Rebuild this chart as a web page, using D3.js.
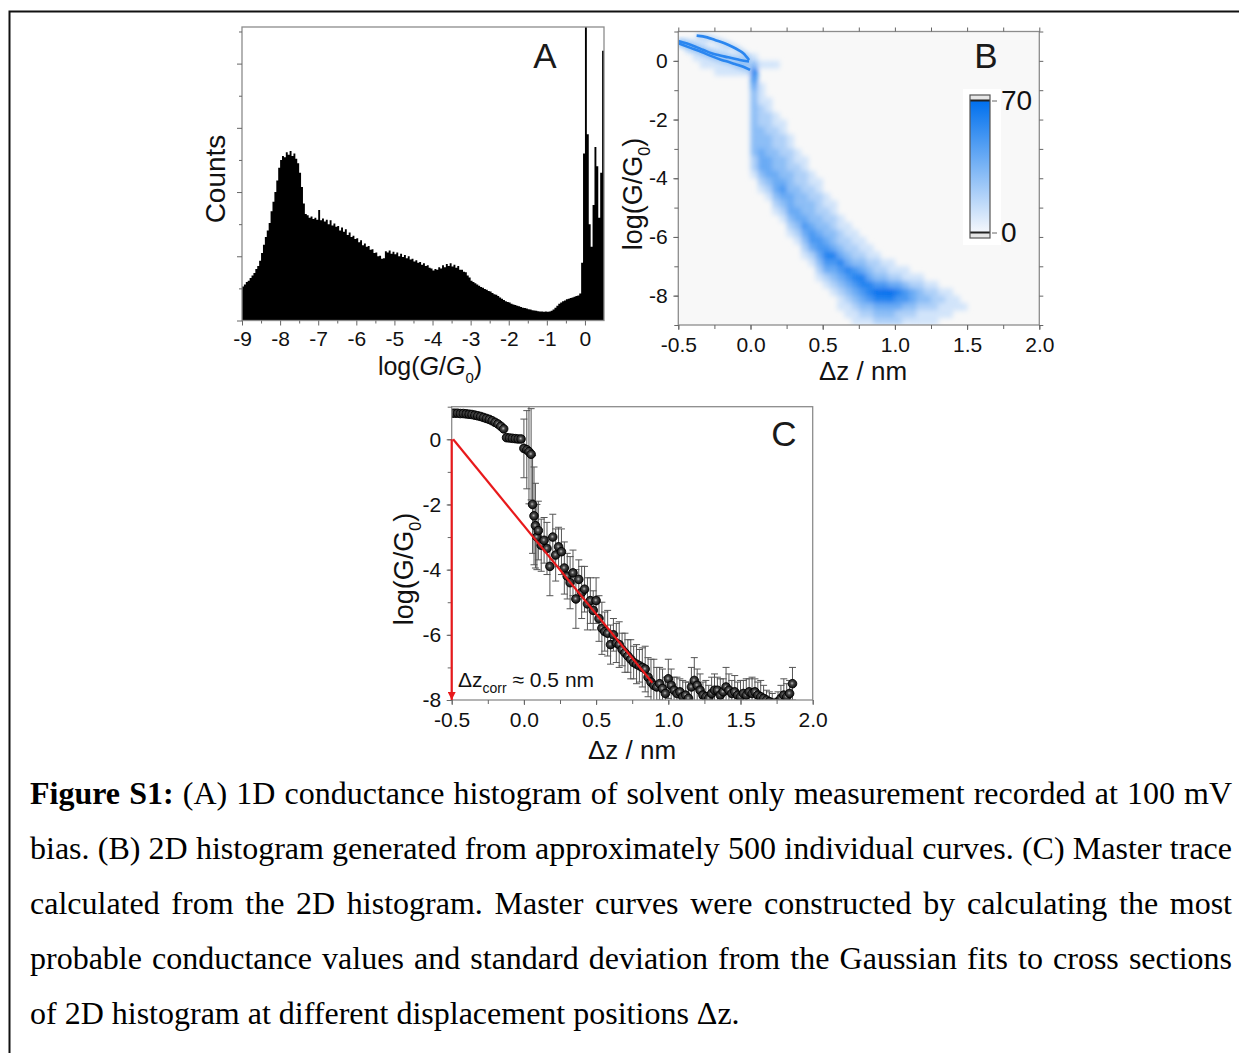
<!DOCTYPE html>
<html><head><meta charset="utf-8">
<script src="https://cdnjs.cloudflare.com/ajax/libs/d3/7.8.5/d3.min.js"></script>
<style>body{margin:0;background:#fff}svg{display:block}</style>
</head><body>
<svg id="fig" width="1239" height="1053"></svg>
<script>
// ---------------- DATA ----------------
// Panel A: 1D histogram, bins of 0.05 starting at -9
const histFirstBin = -9.0;
const histBinWidth = 0.05;
const histCounts = [
 530,560,600,620,660,700,740,800,850,930,
 1050,1180,1300,1400,1520,1700,1850,2000,2180,2380,
 2500,2560,2540,2620,2580,2640,2560,2600,2520,2450,
 2300,2080,1820,1660,1640,1600,1620,1580,1600,1570,
 1720,1560,1590,1540,1570,1500,1560,1480,1510,1460,
 1470,1400,1450,1380,1420,1330,1370,1300,1320,1270,
 1280,1220,1250,1170,1200,1150,1160,1100,1110,1050,
 1060,1000,1010,960,970,1080,1060,1090,1040,1070,
 1030,1060,1000,1040,990,1020,970,1000,950,960,
 920,940,900,910,870,890,850,860,820,810,
 780,800,790,830,810,860,830,880,850,890,
 840,870,820,850,790,790,760,750,700,670,
 620,600,580,560,540,520,510,490,480,460,
 450,430,410,400,380,360,340,320,300,290,
 280,260,250,240,230,220,210,200,195,185,
 175,170,160,155,150,145,140,140,135,140,
 135,140,150,170,200,230,260,280,300,310,
 330,340,350,360,370,380,390,420,900,2600,
 4700,2900,1500,1150,1800,2700,2400,1600,2300,4200
];
const histXTicks = [-9,-8,-7,-6,-5,-4,-3,-2,-1,0];
const histYTicks = [0,1000,2000,3000,4000];

// Panel B: 2D histogram, columns of 0.05 nm from -0.5, rows of 0.25 from log=1 downward
const densityColStart = -0.5, densityColWidth = 0.05, densityRowTop = 1, densityRowHeight = 0.25;
const densityStartRow = [1,1,1,1,2,2,2,3,3,3, 3,4,4,4,12,14,16,17,19,20, 22,23,25,26,27,28,29,30,31,31, 32,32,33,33,34,34,35,35,36,37];
const densityDigits = [
 "1","11","111","1111","111","1111","1111","111","121","121",
 "13654333333333221","100111222333444321","1000011222333444321","100000011222333444321",
 "11222333454321","11222333444321","1122233344321","11222333454321","1122333455421","11222334554321",
 "1122334565421","1122334654321","1122346543211","1122346543211","1122356543211","112346654321",
 "11234665321","1223576432","123576432","112476432","12465422","11355321","1244321","1233211",
 "123211","122211","1211","1111","11","1"
];
const densityLevelCount = 10; // counts per digit level
const colorbarMax = 70, colorbarMin = 0;
// plateau traces (log G/G0 vs Δz) in the 2D histogram
const traceUx = [-0.373,-0.30,-0.246,-0.18,-0.13,-0.08,-0.05,-0.01];
const traceUy = [0.86,0.80,0.71,0.60,0.49,0.36,0.26,0.03];
const traceMx = [-0.5,-0.44,-0.385,-0.33,-0.27,-0.21,-0.154,-0.11,-0.073,-0.01];
const traceMy = [0.68,0.59,0.49,0.38,0.26,0.18,0.12,0.07,0.03,-0.02];
const traceLx = [-0.5,-0.42,-0.338,-0.27,-0.2,-0.15,-0.108,-0.05,-0.003];
const traceLy = [0.60,0.45,0.30,0.16,0.03,-0.04,-0.11,-0.2,-0.31];
const dzTicks = [-0.5,0,0.5,1,1.5,2];
const logTicksB = [0,-2,-4,-6,-8];

// Panel C: master trace
const cX = [-0.50,-0.48,-0.46,-0.44,-0.42,-0.40,-0.38,-0.36,-0.34,-0.32,-0.30,-0.28,-0.26,-0.24,-0.22,-0.20,-0.18,-0.16,-0.14,
 -0.12,-0.10,-0.08,-0.06,-0.04,-0.02,
 0.00,0.02,0.035,0.05,
 0.06,0.07,0.08,0.09,0.10,
 0.12,0.14,0.16,0.18,0.20,0.22,0.24,0.26,0.28,0.30,
 0.32,0.34,0.36,0.38,0.40,0.42,0.44,0.46,0.48,0.50,
 0.52,0.54,0.56,0.58,0.60,0.62,0.64,0.66,0.68,0.70,
 0.72,0.74,0.76,0.78,0.80,0.82,0.84,0.86,0.88,0.90,
 0.92,0.94,0.96,0.98,1.00,1.02,1.04,1.06,1.08,1.10,
 1.12,1.14,1.16,1.18,1.20,1.22,1.24,1.26,1.28,1.30,
 1.32,1.34,1.36,1.38,1.40,1.42,1.44,1.46,1.48,1.50,
 1.52,1.54,1.56,1.58,1.60,1.62,1.64,1.66,1.68,1.70,
 1.72,1.74,1.76,1.78,1.80,1.82,1.84,1.86];
const cY = [0.80,0.80,0.80,0.79,0.79,0.78,0.77,0.76,0.74,0.72,0.70,0.67,0.64,0.61,0.57,0.52,0.47,0.40,0.32,
 0.05,0.04,0.03,0.02,0.01,0.01,
 -0.28,-0.32,-0.38,-0.46,
 -2.0,-2.35,-2.65,-3.0,-2.8,
 -3.25,-3.10,-3.35,-3.90,-3.00,-3.55,-3.30,-3.45,-3.95,-4.20,
 -4.40,-4.10,-4.90,-4.30,-4.70,-4.60,-5.05,-4.95,-5.25,-4.95,
 -5.50,-5.80,-5.90,-5.95,-6.30,-6.00,-6.25,-6.30,-6.45,-6.55,
 -6.65,-6.75,-6.85,-6.90,-6.95,-7.00,-7.05,-7.30,-7.45,-7.55,
 -7.60,-7.50,-7.65,-7.80,-7.35,-7.55,-7.70,-7.80,-7.75,-7.90,
 -7.85,-7.95,-7.60,-7.40,-7.55,-7.70,-7.85,-7.90,-7.95,-7.80,
 -7.70,-7.70,-7.85,-7.75,-7.60,-7.70,-7.80,-7.75,-7.85,-7.90,
 -7.80,-7.85,-7.75,-7.80,-7.75,-7.85,-7.90,-7.95,-8.00,-8.05,
 -8.10,-8.15,-8.05,-7.95,-7.85,-7.90,-7.80,-7.50];
const cErr = [0.05,0.05,0.05,0.05,0.05,0.05,0.05,0.05,0.05,0.05,0.05,0.05,0.05,0.05,0.05,0.05,0.05,0.05,0.06,
 0.08,0.08,0.08,0.08,0.08,0.08,
 0.9,1.2,1.6,1.4,
 1.5,1.5,1.3,1.0,0.9,
 0.8,0.7,0.8,0.9,0.7,0.8,0.6,0.7,0.8,0.7,
 0.8,0.7,0.9,0.6,0.8,0.7,0.8,0.7,0.6,0.7,
 0.7,0.8,0.6,0.7,0.6,0.5,0.6,0.7,0.5,0.6,
 0.5,0.6,0.5,0.6,0.5,0.6,0.7,0.6,0.7,0.8,
 0.6,0.5,0.6,0.5,0.6,0.5,0.4,0.5,0.4,0.5,
 0.4,0.5,0.6,0.7,0.5,0.5,0.4,0.5,0.4,0.5,
 0.5,0.4,0.5,0.4,0.6,0.5,0.4,0.5,0.4,0.5,
 0.4,0.5,0.4,0.5,0.4,0.4,0.5,0.4,0.3,0.3,
 0.3,0.2,0.3,0.4,0.5,0.4,0.4,0.5];
const logTicksC = [0,-2,-4,-6,-8];
const corrLineStart = [-0.49, 0], corrLineEnd = [0.89, -7.47];
const corrArrowTop = 0, corrArrowBottom = -8, corrArrowX = -0.5;

const captionLines = [
 [["Figure S1:", true], [" (A) 1D conductance histogram of solvent only measurement recorded at 100 mV", false]],
 [["bias. (B) 2D histogram generated from approximately 500 individual curves. (C) Master trace", false]],
 [["calculated from the 2D histogram. Master curves were constructed by calculating the most", false]],
 [["probable conductance values and standard deviation from the Gaussian fits to cross sections", false]],
 [["of 2D histogram at different displacement positions Δz.", false]]
];

// ---------------- DRAWING ----------------
const FONT = "'Liberation Sans', Arial, sans-serif";
const SERIF = "'Liberation Serif', 'Times New Roman', serif";
const svg = d3.select("#fig");
const defs = svg.append("defs");

svg.append("rect").attr("x",9.5).attr("y",11.5).attr("width",1250).attr("height",1060)
  .attr("fill","none").attr("stroke","#111").attr("stroke-width",2);

function styleAxis(g){
  g.select(".domain").remove();
  g.selectAll(".tick line").attr("stroke","#666").attr("stroke-width",1);
  g.selectAll(".tick text").attr("fill","#111").attr("font-size",21).attr("font-family",FONT);
}
function frame(x0,y0,x1,y1){
  svg.append("rect").attr("x",x0).attr("y",y0).attr("width",x1-x0).attr("height",y1-y0)
    .attr("fill","none").attr("stroke","#8c8c8c").attr("stroke-width",1.3);
}
function logLabel(x,y,rot,italic,size){
  const t = svg.append("text").attr("font-family",FONT).attr("font-size",size).attr("fill","#111")
    .attr("text-anchor","middle")
    .attr("transform",`translate(${x},${y}) rotate(${rot})`);
  t.append("tspan").text("log(");
  t.append("tspan").attr("font-style",italic?"italic":"normal").text("G");
  t.append("tspan").text("/");
  t.append("tspan").attr("font-style",italic?"italic":"normal").text("G");
  t.append("tspan").attr("font-size",size*0.6).attr("dy",size*0.3).text("0");
  t.append("tspan").attr("dy",-size*0.3).text(")");
}
function panelLetter(x,y,s){
  svg.append("text").attr("x",x).attr("y",y).attr("text-anchor","middle").attr("font-family",FONT)
    .attr("font-size",35).attr("fill","#1a1a1a").text(s);
}
const fmt1 = v => v.toFixed(1);
const fmtI = v => String(v);

// ===== Panel A =====
const A = {x0:242, x1:604, y0:27, y1:320.5};
const xA = d3.scaleLinear().domain([-9,0.5]).range([A.x0,A.x1]);
const yA = d3.scaleLinear().domain([0,4570]).range([A.y1,A.y0]);
defs.append("clipPath").attr("id","clipA").append("rect")
  .attr("x",A.x0).attr("y",A.y0).attr("width",A.x1-A.x0).attr("height",A.y1-A.y0);
const histPts = histCounts.map((c,i)=>[histFirstBin+i*histBinWidth, c]);
histPts.push([histFirstBin+histCounts.length*histBinWidth, histCounts[histCounts.length-1]]);
svg.append("path").attr("clip-path","url(#clipA)")
  .attr("d", d3.area().curve(d3.curveStepAfter).x(d=>xA(d[0])).y0(yA(0)).y1(d=>yA(d[1]))(histPts))
  .attr("fill","#000");
frame(A.x0,A.y0,A.x1,A.y1);
svg.append("g").attr("transform",`translate(0,${A.y1})`)
  .call(d3.axisBottom(xA).tickValues(histXTicks).tickFormat(fmtI).tickSize(5).tickPadding(6).tickSizeOuter(0)).call(styleAxis);
svg.append("g").attr("transform",`translate(0,${A.y1})`)
  .call(d3.axisBottom(xA).tickValues(histXTicks.slice(0,-1).map(v=>v+0.5)).tickFormat(()=>"").tickSize(3)).call(styleAxis);
svg.append("g").attr("transform",`translate(${A.x0},0)`)
  .call(d3.axisLeft(yA).tickValues(histYTicks).tickFormat(()=>"").tickSize(5)).call(styleAxis);
svg.append("g").attr("transform",`translate(${A.x0},0)`)
  .call(d3.axisLeft(yA).tickValues(histYTicks.map(v=>v+500)).tickFormat(()=>"").tickSize(3)).call(styleAxis);
svg.append("text").attr("font-family",FONT).attr("font-size",28).attr("fill","#111").attr("text-anchor","middle")
  .attr("transform","translate(225,179) rotate(-90)").text("Counts");
logLabel(430,375,0,true,25);
panelLetter(545,68,"A");

// ===== Panel B =====
const B = {x0:678.3, x1:1039.3, y0:31.5, y1:325};
const xB = d3.scaleLinear().domain([-0.5,2]).range([B.x0,B.x1]);
const yB = d3.scaleLinear().domain([-9,1]).range([B.y1,B.y0]);
const colorB = d3.scaleLinear().domain([colorbarMin,colorbarMax]).range(["#f4f7fc","#0070ee"]).clamp(true);
defs.append("clipPath").attr("id","clipB").append("rect")
  .attr("x",B.x0).attr("y",B.y0).attr("width",B.x1-B.x0).attr("height",B.y1-B.y0);
const blur = defs.append("filter").attr("id","blurB").attr("x","-20%").attr("y","-20%").attr("width","140%").attr("height","140%");
blur.append("feGaussianBlur").attr("stdDeviation",2.6);
const blur2 = defs.append("filter").attr("id","blurT").attr("x","-20%").attr("y","-50%").attr("width","140%").attr("height","200%");
blur2.append("feGaussianBlur").attr("stdDeviation",0.7);
svg.append("rect").attr("x",B.x0).attr("y",B.y0).attr("width",B.x1-B.x0).attr("height",B.y1-B.y0).attr("fill","#f8f8f8");
const cells = [];
densityDigits.forEach((s,ci)=>{
  for(let k=0;k<s.length;k++){
    const d = +s[k]; if(!d) continue;
    const row = densityStartRow[ci]+k;
    cells.push({x:densityColStart+ci*densityColWidth, y:densityRowTop-row*densityRowHeight, c:d*densityLevelCount});
  }
});
const gB = svg.append("g").attr("clip-path","url(#clipB)");
const gBlur = gB.append("g").attr("filter","url(#blurB)");
gBlur.selectAll("rect").data(cells).join("rect")
  .attr("x",d=>xB(d.x)).attr("y",d=>yB(d.y))
  .attr("width",d=>xB(d.x+densityColWidth)-xB(d.x)+0.3)
  .attr("height",d=>yB(d.y-densityRowHeight)-yB(d.y)+0.3)
  .attr("fill",d=>colorB(d.c));
const traceLine = d3.line().curve(d3.curveMonotoneX).x(d=>xB(d[0])).y(d=>yB(d[1]));
const traces = [[traceUx,traceUy],[traceMx,traceMy],[traceLx,traceLy]].map(([xs,ys])=>xs.map((x,i)=>[x,ys[i]]));
gB.selectAll("path.halo").data(traces).join("path").attr("class","halo").attr("d",traceLine)
  .attr("fill","none").attr("stroke","#6aaaf2").attr("stroke-opacity",0.45).attr("stroke-width",6).attr("filter","url(#blurB)");
gB.selectAll("path.tr").data(traces).join("path").attr("class","tr").attr("d",traceLine)
  .attr("fill","none").attr("stroke","#2a86f0").attr("stroke-width",2.6).attr("filter","url(#blurT)");
frame(B.x0,B.y0,B.x1,B.y1);
const dzMinor = d3.range(11).map(i=>-0.5+i*0.25);
const logAll = d3.range(11).map(i=>1-i);
svg.append("g").attr("transform",`translate(0,${B.y1})`)
  .call(d3.axisBottom(xB).tickValues(dzTicks).tickFormat(fmt1).tickSize(5).tickPadding(7).tickSizeOuter(0)).call(styleAxis);
svg.append("g").attr("transform",`translate(0,${B.y1})`)
  .call(d3.axisBottom(xB).tickValues(dzMinor).tickFormat(()=>"").tickSize(4)).call(styleAxis);
svg.append("g").attr("transform",`translate(0,${B.y0})`)
  .call(d3.axisTop(xB).tickValues(dzMinor).tickFormat(()=>"").tickSize(4)).call(styleAxis);
svg.append("g").attr("transform",`translate(${B.x0},0)`)
  .call(d3.axisLeft(yB).tickValues(logTicksB).tickFormat(fmtI).tickSize(5).tickPadding(5.5)).call(styleAxis);
svg.append("g").attr("transform",`translate(${B.x0},0)`)
  .call(d3.axisLeft(yB).tickValues(logAll).tickFormat(()=>"").tickSize(4)).call(styleAxis);
svg.append("g").attr("transform",`translate(${B.x1},0)`)
  .call(d3.axisRight(yB).tickValues(logAll).tickFormat(()=>"").tickSize(4)).call(styleAxis);
svg.append("text").attr("x",863).attr("y",380).attr("text-anchor","middle").attr("font-family",FONT)
  .attr("font-size",26).attr("fill","#111").text("Δz / nm");
logLabel(642,194,-90,false,27);
panelLetter(986,68,"B");
// colorbar
const cb = {x:970, y0:95, y1:238, w:20};
svg.append("rect").attr("x",963).attr("y",89).attr("width",38).attr("height",156).attr("fill","#fff");
const grad = defs.append("linearGradient").attr("id","cbGrad").attr("x1",0).attr("y1",1).attr("x2",0).attr("y2",0);
grad.append("stop").attr("offset","0%").attr("stop-color",colorB(colorbarMin));
grad.append("stop").attr("offset","50%").attr("stop-color",colorB((colorbarMin+colorbarMax)/2));
grad.append("stop").attr("offset","100%").attr("stop-color",colorB(colorbarMax));
svg.append("rect").attr("x",cb.x).attr("y",cb.y0).attr("width",cb.w).attr("height",cb.y1-cb.y0).attr("fill","#e6e6e6");
svg.append("rect").attr("x",cb.x).attr("y",cb.y0+6).attr("width",cb.w).attr("height",cb.y1-cb.y0-12).attr("fill","url(#cbGrad)");
svg.append("line").attr("x1",cb.x).attr("x2",cb.x+cb.w).attr("y1",cb.y0+5.5).attr("y2",cb.y0+5.5).attr("stroke","#222").attr("stroke-width",2);
svg.append("line").attr("x1",cb.x).attr("x2",cb.x+cb.w).attr("y1",cb.y1-5.5).attr("y2",cb.y1-5.5).attr("stroke","#222").attr("stroke-width",2);
svg.append("rect").attr("x",cb.x).attr("y",cb.y0).attr("width",cb.w).attr("height",cb.y1-cb.y0).attr("fill","none").attr("stroke","#555").attr("stroke-width",1.2);
const cbScale = d3.scaleLinear().domain([colorbarMin,colorbarMax]).range([cb.y1-5.5,cb.y0+5.5]);
const cbAxis = svg.append("g").attr("transform",`translate(${cb.x+cb.w+2},0)`)
  .call(d3.axisRight(cbScale).tickValues([colorbarMin,colorbarMax]).tickFormat(fmtI).tickSize(5).tickPadding(4)).call(styleAxis);
cbAxis.selectAll(".tick text").attr("font-size",28);

// ===== Panel C =====
const Cp = {x0:451.7, x1:812.7, y0:406.7, y1:700};
const xC = d3.scaleLinear().domain([-0.5,2]).range([Cp.x0,Cp.x1]);
const yC = d3.scaleLinear().domain([-8,1]).range([Cp.y1,Cp.y0]);
defs.append("clipPath").attr("id","clipC").append("rect")
  .attr("x",Cp.x0).attr("y",Cp.y0).attr("width",Cp.x1-Cp.x0).attr("height",Cp.y1-Cp.y0);
const ball = defs.append("radialGradient").attr("id","ball").attr("cx","45%").attr("cy","45%").attr("r","60%");
ball.append("stop").attr("offset","0%").attr("stop-color","#bdbdbd");
ball.append("stop").attr("offset","35%").attr("stop-color","#444");
ball.append("stop").attr("offset","100%").attr("stop-color","#050505");
const pts = cX.map((x,i)=>({x, y:cY[i], e:cErr[i]}));
const gC = svg.append("g").attr("clip-path","url(#clipC)");
const eb = gC.append("g").attr("stroke","#555").attr("stroke-width",1);
eb.selectAll("line.v").data(pts).join("line").attr("class","v")
  .attr("x1",d=>xC(d.x)).attr("x2",d=>xC(d.x)).attr("y1",d=>yC(d.y-d.e)).attr("y2",d=>yC(d.y+d.e));
eb.selectAll("line.t").data(pts).join("line").attr("class","t")
  .attr("x1",d=>xC(d.x)-3.5).attr("x2",d=>xC(d.x)+3.5).attr("y1",d=>yC(d.y+d.e)).attr("y2",d=>yC(d.y+d.e));
eb.selectAll("line.b").data(pts).join("line").attr("class","b")
  .attr("x1",d=>xC(d.x)-3.5).attr("x2",d=>xC(d.x)+3.5).attr("y1",d=>yC(d.y-d.e)).attr("y2",d=>yC(d.y-d.e));
gC.selectAll("circle").data(pts).join("circle")
  .attr("cx",d=>xC(d.x)).attr("cy",d=>yC(d.y)).attr("r",4.3)
  .attr("fill","url(#ball)").attr("stroke","#000").attr("stroke-width",0.9);
frame(Cp.x0,Cp.y0,Cp.x1,Cp.y1);
svg.append("g").attr("transform",`translate(0,${Cp.y1})`)
  .call(d3.axisBottom(xC).tickValues(dzTicks).tickFormat(fmt1).tickSize(5).tickPadding(7).tickSizeOuter(0)).call(styleAxis);
svg.append("g").attr("transform",`translate(0,${Cp.y1})`)
  .call(d3.axisBottom(xC).tickValues(dzMinor).tickFormat(()=>"").tickSize(4)).call(styleAxis);
svg.append("g").attr("transform",`translate(${Cp.x0},0)`)
  .call(d3.axisLeft(yC).tickValues(logTicksC).tickFormat(fmtI).tickSize(5).tickPadding(5.5)).call(styleAxis);
svg.append("g").attr("transform",`translate(${Cp.x0},0)`)
  .call(d3.axisLeft(yC).tickValues(d3.range(10).map(i=>1-i)).tickFormat(()=>"").tickSize(4)).call(styleAxis);
// red annotation
const red = "#e8191b";
defs.append("marker").attr("id","arrowRed").attr("viewBox","0 0 10 10").attr("refX",10).attr("refY",5)
  .attr("markerWidth",13).attr("markerHeight",8).attr("markerUnits","userSpaceOnUse").attr("orient","auto")
  .append("path").attr("d","M0,0 L10,5 L0,10 z").attr("fill",red);
svg.append("line").attr("x1",xC(corrLineStart[0])).attr("y1",yC(corrLineStart[1]))
  .attr("x2",xC(corrLineEnd[0])).attr("y2",yC(corrLineEnd[1])).attr("stroke",red).attr("stroke-width",2.2);
svg.append("line").attr("x1",xC(corrArrowX)).attr("y1",yC(corrArrowTop))
  .attr("x2",xC(corrArrowX)).attr("y2",yC(corrArrowBottom)).attr("stroke",red).attr("stroke-width",2.2)
  .attr("marker-end","url(#arrowRed)");
const ann = svg.append("text").attr("x",458).attr("y",687).attr("font-family",FONT).attr("font-size",21).attr("fill","#111");
ann.append("tspan").text("Δz");
ann.append("tspan").attr("font-size",14).attr("dy",6).text("corr");
ann.append("tspan").attr("dy",-6).text(" ≈ 0.5 nm");
svg.append("text").attr("x",632).attr("y",759).attr("text-anchor","middle").attr("font-family",FONT)
  .attr("font-size",26).attr("fill","#111").text("Δz / nm");
logLabel(413,569,-90,false,27);
panelLetter(784,446,"C");

// ===== Caption =====
const capX = 30, capW = 1202, capY0 = 804, capLH = 55;
captionLines.forEach((parts,li)=>{
  const t = svg.append("text").attr("x",capX).attr("y",capY0+li*capLH)
    .attr("font-family",SERIF).attr("font-size",32).attr("fill","#000").attr("xml:space","preserve");
  parts.forEach(([s,b])=>t.append("tspan").attr("font-weight",b?"bold":"normal").text(s));
  if(li < captionLines.length-1){
    const full = parts.map(p=>p[0]).join("");
    const nSp = (full.match(/ /g)||[]).length;
    const len = t.node().getComputedTextLength();
    t.attr("word-spacing",(capW-len)/nSp);
  }
});
</script>
</body></html>
